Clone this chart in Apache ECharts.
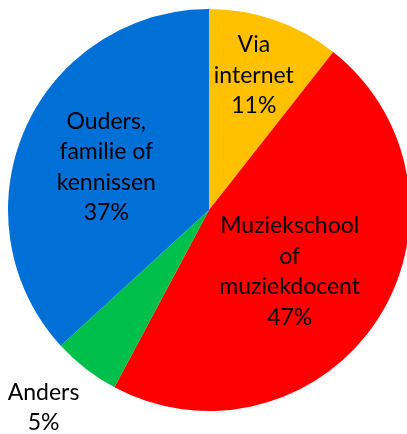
<!DOCTYPE html>
<html><head><meta charset="utf-8">
<script src="https://cdn.jsdelivr.net/npm/echarts@6/dist/echarts.min.js"></script>
<style>html,body{margin:0;padding:0;background:#fff}#c{width:407px;height:434px}</style>
</head><body><div id="c"></div>
<script>
const categories = ['Via\ninternet', 'Muziekschool\nof\nmuziekdocent', 'Anders', 'Ouders,\nfamilie of\nkennissen'];
const values = [10.6, 47.2, 5.4, 36.8];
const colors = ['#FFC000', '#FF0000', '#00C04B', '#006FD6'];
const labelOffsets = [[11, -37], [-6, 5], [-102, 116], [-8, -1]];

const chart = echarts.init(document.getElementById('c'), null, {renderer: 'canvas'});
chart.setOption({
  animation: false,
  series: [{
    type: 'pie',
    center: [209, 210],
    radius: 201,
    startAngle: 90,
    clockwise: true,
    avoidLabelOverlap: false,
    itemStyle: {borderWidth: 0},
    label: {
      position: 'inside',
      color: '#000',
      fontFamily: 'Lato',
      fontSize: 23,
      lineHeight: 30.5,
      align: 'center',
      formatter: p => p.name + '\n' + Math.round(p.percent) + '%'
    },
    labelLine: {show: false},
    data: categories.map((c, i) => ({
      name: c, value: values[i],
      itemStyle: {color: colors[i]},
      label: {offset: labelOffsets[i]}
    }))
  }]
});
</script></body></html>
